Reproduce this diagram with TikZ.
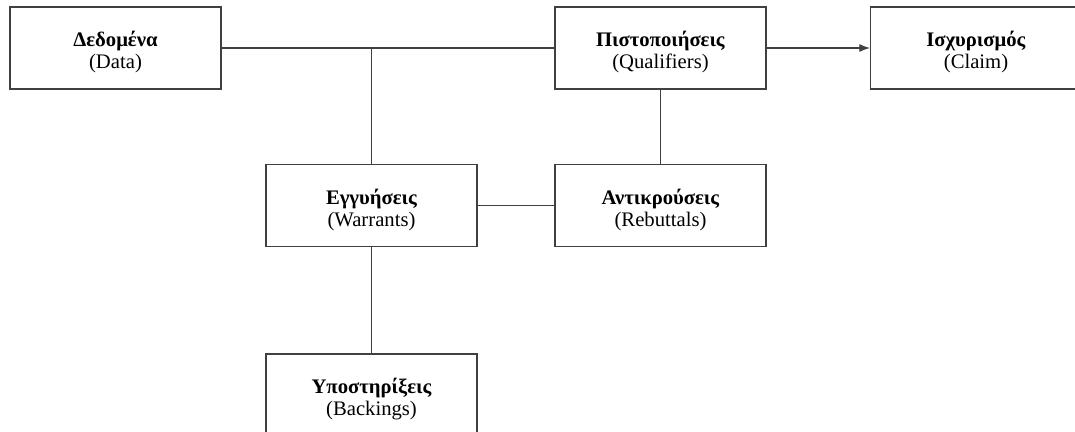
\documentclass[tikz,border=0pt]{standalone}
\usepackage{fontspec}
\setmainfont{Liberation Serif}
\usetikzlibrary{arrows.meta}
\newcommand{\parttext}[2]{\rule{0pt}{18pt}\textbf{#1}\\(#2)}
\tikzset{
	part/.style={draw=black!75,line width=.8pt,minimum width=158.25pt,minimum height=61.5pt,align=center,font=\fontsize{15.5}{16.5}\selectfont},
	link/.style={draw=black!75,line width=.8pt}
}
\begin{document}
\begin{tikzpicture}[x=.75pt,y=-.75pt]
			\useasboundingbox (0,0) rectangle (1075,432);
			\node[part] (data) at (115.5,48) {\parttext{Δεδομένα}{Data}};
			\node[part] (qual) at (660.5,48) {\parttext{Πιστοποιήσεις}{Qualifiers}};
			\node[part] (claim) at (976,48) {\parttext{Ισχυρισμός}{Claim}};
			\node[part] (warr) at (371.5,205.5) {\parttext{Εγγυήσεις}{Warrants}};
			\node[part] (reb) at (660.5,205.5) {\parttext{Αντικρούσεις}{Rebuttals}};
			\node[part] (back) at (371.5,395) {\parttext{Υποστηρίξεις}{Backings}};
			\coordinate (jn) at (warr.north |- data.east);
			\draw[link] (data.east)--(qual.west);
			\draw[link] (jn)--(warr.north);
			\draw[link,-{Latex[length=8pt,width=6pt]}] (qual.east)--(claim.west);
			\draw[link] (qual.south)--(reb.north);
			\draw[link] (warr.east)--(reb.west);
			\draw[link] (warr.south)--(back.north);
		\end{tikzpicture}
\end{document}
